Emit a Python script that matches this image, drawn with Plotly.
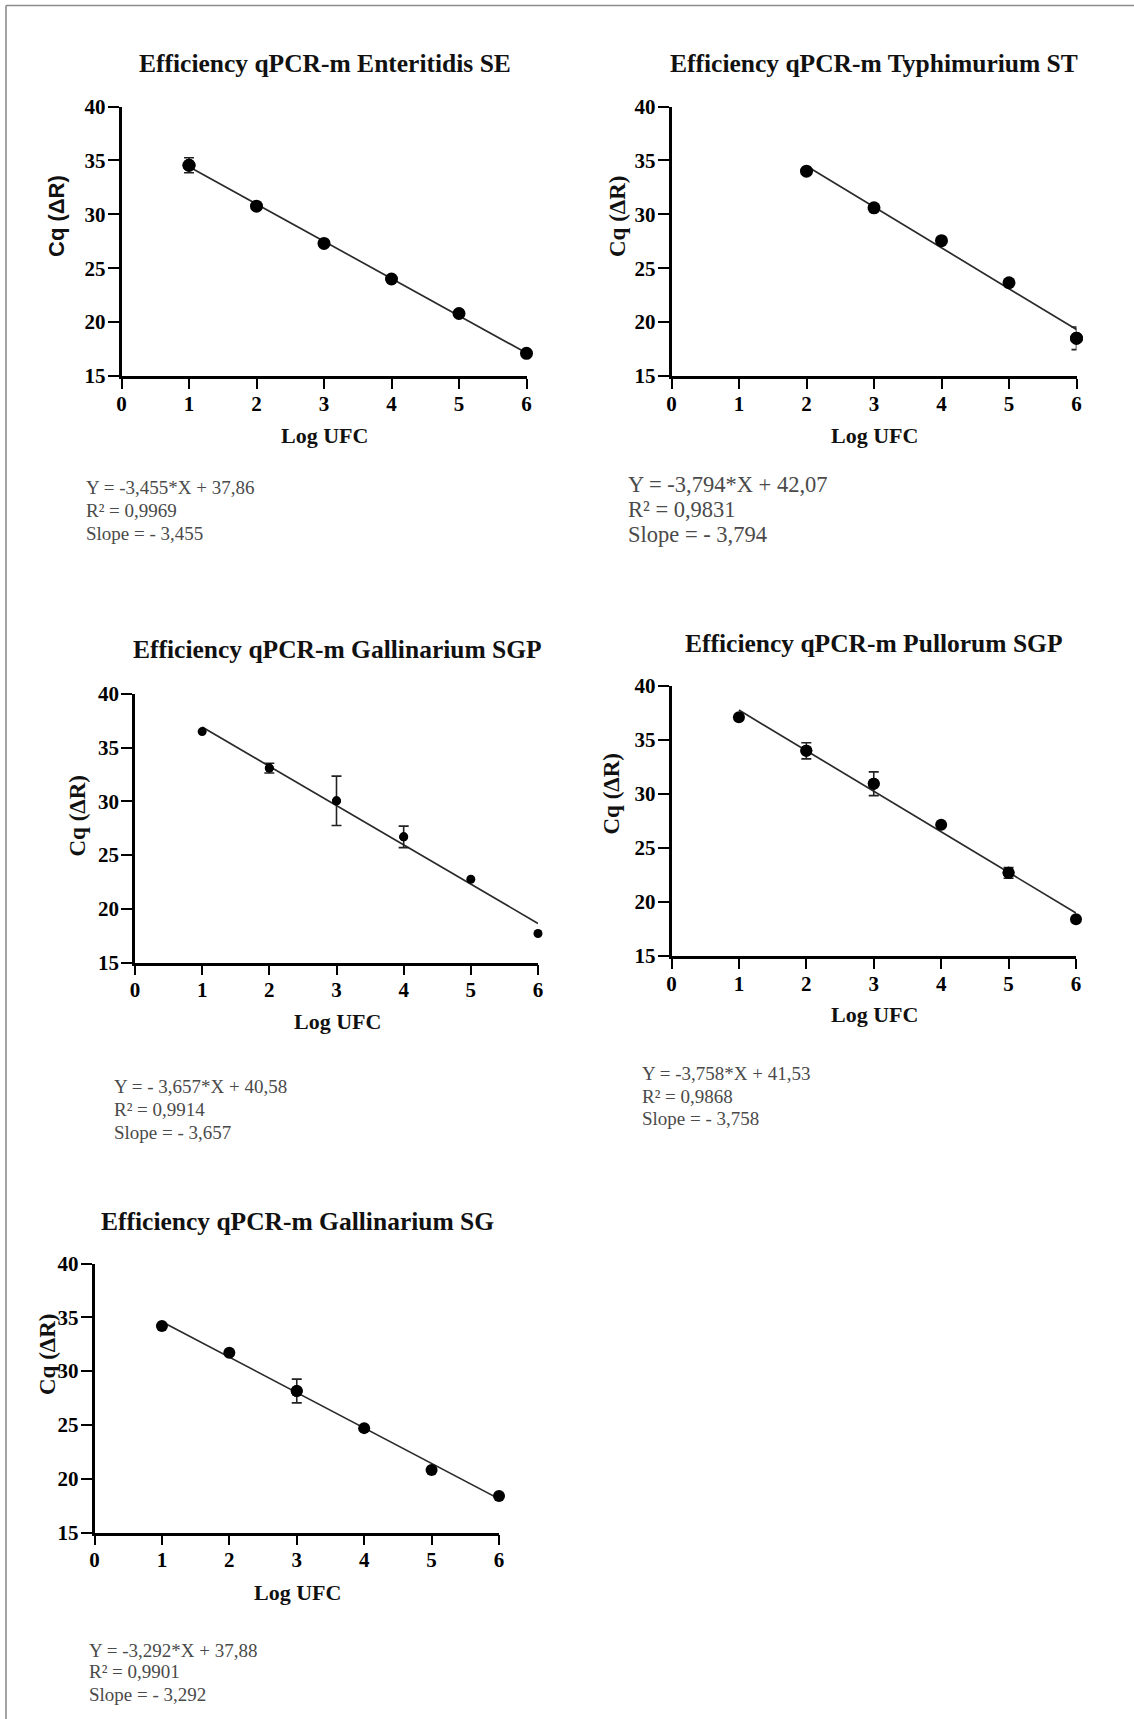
import plotly.graph_objects as go

W, H = 1134, 1719

# ---------------- data ----------------
titles = [
    "Efficiency qPCR-m Enteritidis SE",
    "Efficiency qPCR-m Typhimurium ST",
    "Efficiency qPCR-m Gallinarium SGP",
    "Efficiency qPCR-m Pullorum SGP",
    "Efficiency qPCR-m Gallinarium SG",
]

log_ufc_se = [1, 2, 3, 4, 5, 6]
cq_se = [34.55, 30.75, 27.3, 24.0, 20.8, 17.1]
err_se = [0.7, 0, 0, 0, 0, 0]

log_ufc_st = [2, 3, 4, 5, 6]
cq_st = [34.0, 30.6, 27.55, 23.65, 18.5]
err_st = [0, 0, 0, 0, 1.05]

log_ufc_sgp_gal = [1, 2, 3, 4, 5, 6]
cq_sgp_gal = [36.5, 33.1, 30.05, 26.7, 22.75, 17.7]
err_sgp_gal = [0, 0.45, 2.3, 1.0, 0, 0]

log_ufc_sgp_pul = [1, 2, 3, 4, 5, 6]
cq_sgp_pul = [37.1, 34.0, 30.95, 27.15, 22.7, 18.4]
err_sgp_pul = [0, 0.75, 1.1, 0, 0.5, 0]

log_ufc_sg = [1, 2, 3, 4, 5, 6]
cq_sg = [34.2, 31.7, 28.15, 24.7, 20.8, 18.4]
err_sg = [0, 0, 1.1, 0, 0, 0]

slopes = [-3.455, -3.794, -3.657, -3.758, -3.292]
intercepts = [37.86, 42.07, 40.58, 41.53, 37.88]

equation_texts = [
    ["Y = -3,455*X + 37,86", "R² = 0,9969", "Slope = - 3,455"],
    ["Y = -3,794*X + 42,07", "R² = 0,9831", "Slope = - 3,794"],
    ["Y = - 3,657*X + 40,58", "R² = 0,9914", "Slope = - 3,657"],
    ["Y = -3,758*X + 41,53", "R² = 0,9868", "Slope = - 3,758"],
    ["Y = -3,292*X + 37,88", "R² = 0,9901", "Slope = - 3,292"],
]

x_ticks = [0, 1, 2, 3, 4, 5, 6]
y_ticks = [15, 20, 25, 30, 35, 40]
x_title = "Log UFC"
y_title = "Cq (ΔR)"

series = [
    (log_ufc_se, cq_se, err_se),
    (log_ufc_st, cq_st, err_st),
    (log_ufc_sgp_gal, cq_sgp_gal, err_sgp_gal),
    (log_ufc_sgp_pul, cq_sgp_pul, err_sgp_pul),
    (log_ufc_sg, cq_sg, err_sg),
]

# ---------------- layout (pixels) ----------------
# plot box: left (x=0), right (x=6), top (y=40), bottom (y=15)
boxes = [
    (121.5, 526.5, 106.5, 376.0),
    (671.5, 1076.5, 106.5, 376.0),
    (135.0, 538.0, 694.0, 962.5),
    (671.5, 1076.0, 686.0, 956.0),
    (94.5, 499.0, 1263.5, 1532.5),
]
title_pos = [(325, 64), (874, 64), (337, 650), (874, 643), (297.5, 1221)]
xlab_pos = [(324, 435.5), (874, 435.5), (337, 1021), (874, 1014.5), (297, 1592)]
ylab_pos = [(56, 216), (617, 216), (76.5, 816), (610.5, 794), (47, 1354)]
ylab_font = ["Liberation Sans", "Liberation Serif", "Liberation Serif", "Liberation Serif", "Liberation Serif"]
eq_pos = [
    (84, [487.5, 510.5, 534]),
    (625.5, [484.5, 509.5, 534.5]),
    (112, [1086, 1109, 1132]),
    (639.5, [1073, 1096, 1118.5]),
    (86.5, [1650, 1671.5, 1694]),
]
eq_size = [19, 22.5, 19, 19, 19]
marker_size = [13, 13, 9, 12, 12]

SERIF = "Liberation Serif"


def px(x):
    return x / W


def py(y):
    return 1 - y / H


fig = go.Figure()
annotations = []

for i, ((xs, ys, es), (l, r, t, b)) in enumerate(zip(series, boxes)):
    n = i + 1
    xa = "x" if n == 1 else f"x{n}"
    ya = "y" if n == 1 else f"y{n}"

    # regression line
    x0, x1 = min(xs), max(xs)
    fig.add_trace(go.Scatter(
        x=[x0, x1],
        y=[slopes[i] * x0 + intercepts[i], slopes[i] * x1 + intercepts[i]],
        mode="lines", line=dict(color="#2a2a2a", width=1.7),
        xaxis=xa, yaxis=ya, showlegend=False, hoverinfo="skip",
    ))

    # points with error bars
    idx = [k for k, e in enumerate(es) if e > 0]
    if idx:
        fig.add_trace(go.Scatter(
            x=[xs[k] for k in idx], y=[ys[k] for k in idx],
            mode="markers",
            marker=dict(color="black", size=marker_size[i]),
            error_y=dict(type="data", array=[es[k] for k in idx],
                         color="#222", thickness=1.6, width=5),
            xaxis=xa, yaxis=ya, showlegend=False, cliponaxis=False,
        ))

    # all points
    fig.add_trace(go.Scatter(
        x=xs, y=ys, mode="markers",
        marker=dict(color="black", size=marker_size[i]),
        xaxis=xa, yaxis=ya, showlegend=False, cliponaxis=False,
    ))

    axis_common = dict(
        showline=True, linecolor="black", linewidth=2.5,
        ticks="outside", tickcolor="black", tickwidth=2.2,
        showgrid=False, zeroline=False, fixedrange=True,
        tickfont=dict(family=SERIF, size=21, color="black", weight="bold"),
    )
    fig.layout[f"xaxis{'' if n == 1 else n}"] = dict(
        domain=[px(l), px(r)], anchor=ya, range=[0, 6],
        tickvals=x_ticks, ticklen=10, ticklabelstandoff=-3, **axis_common,
    )
    fig.layout[f"yaxis{'' if n == 1 else n}"] = dict(
        domain=[py(b), py(t)], anchor=xa, range=[15, 40],
        tickvals=y_ticks, ticklen=11, ticklabelstandoff=-2, **axis_common,
    )

    # title
    tx, ty = title_pos[i]
    annotations.append(dict(
        x=px(tx), y=py(ty), xref="paper", yref="paper",
        text=f"<b>{titles[i]}</b>", showarrow=False,
        xanchor="center", yanchor="middle",
        font=dict(family=SERIF, size=25.5, color="#111"),
    ))
    # x title
    lx, ly = xlab_pos[i]
    annotations.append(dict(
        x=px(lx), y=py(ly), xref="paper", yref="paper",
        text=f"<b>{x_title}</b>", showarrow=False,
        xanchor="center", yanchor="middle",
        font=dict(family=SERIF, size=22, color="#111"),
    ))
    # y title
    yx, yy = ylab_pos[i]
    annotations.append(dict(
        x=px(yx), y=py(yy), xref="paper", yref="paper",
        text=f"<b>{y_title}</b>", showarrow=False, textangle=-90,
        xanchor="center", yanchor="middle",
        font=dict(family=ylab_font[i], size=22 if i == 0 else 23, color="#111"),
    ))
    # equation block
    ex, eys = eq_pos[i]
    for line, ey in zip(equation_texts[i], eys):
        annotations.append(dict(
            x=px(ex), y=py(ey), xref="paper", yref="paper",
            text=line, showarrow=False,
            xanchor="left", yanchor="middle",
            font=dict(family=SERIF, size=eq_size[i], color="#4a4a4a"),
        ))

shapes = [
    dict(type="line", xref="paper", yref="paper",
         x0=px(6), x1=1, y0=py(5.5), y1=py(5.5),
         line=dict(color="#8c8c8c", width=1.6)),
    dict(type="line", xref="paper", yref="paper",
         x0=px(6), x1=px(6), y0=py(5.5), y1=0,
         line=dict(color="#8c8c8c", width=1.6)),
]

fig.update_layout(
    width=W, height=H,
    margin=dict(l=0, r=0, t=0, b=0, autoexpand=False),
    paper_bgcolor="white", plot_bgcolor="white",
    annotations=annotations, shapes=shapes,
    showlegend=False,
)

fig.write_html(
    "out.html",
    config={"responsive": False, "displayModeBar": False},
    post_script="document.body.style.margin='0';document.body.style.overflow='hidden';",
)
